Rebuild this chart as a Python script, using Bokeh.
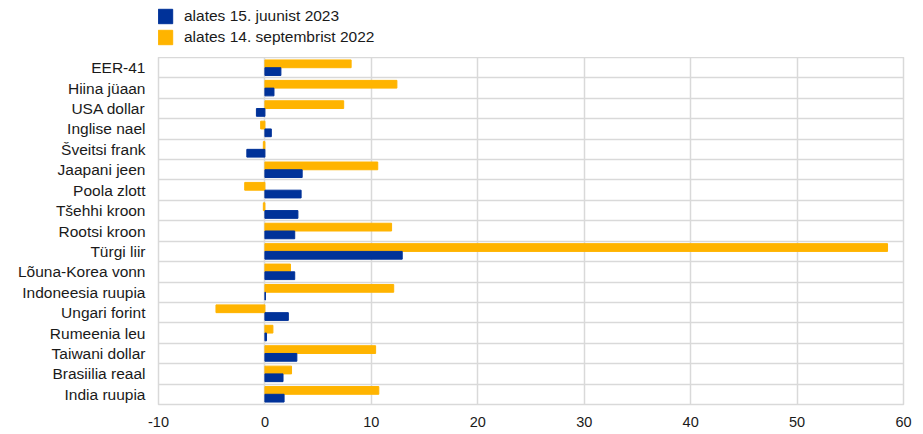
from bokeh.plotting import figure
from bokeh.layouts import column
from bokeh.models import Range1d, FixedTicker, ColumnDataSource, Legend, LegendItem
from bokeh.embed import file_html
from bokeh.resources import INLINE

categories = ["EER-41", "Hiina jüaan", "USA dollar", "Inglise nael", "Šveitsi frank",
              "Jaapani jeen", "Poola zlott", "Tšehhi kroon", "Rootsi kroon", "Türgi liir",
              "Lõuna-Korea vonn", "Indoneesia ruupia", "Ungari forint", "Rumeenia leu",
              "Taiwani dollar", "Brasiilia reaal", "India ruupia"]
since_2023 = [1.5, 0.85, -0.8, 0.6, -1.7, 3.5, 3.4, 3.1, 2.8, 12.9, 2.8, 0.05, 2.2, 0.15, 3.0, 1.7, 1.8]
since_2022 = [8.1, 12.4, 7.4, -0.4, -0.15, 10.6, -1.9, -0.15, 11.9, 58.5, 2.4, 12.1, -4.6, 0.75, 10.4, 2.5, 10.7]
x_ticks = [-10, 0, 10, 20, 30, 40, 50, 60]
x_tick_labels = ["-10", "0", "10", "20", "30", "40", "50", "60"]
series_labels = ["alates 15. juunist 2023", "alates 14. septembrist 2022"]

BLUE = "#003299"
YELLOW = "#FFB400"
FONT = "Liberation Sans"
TXT = "#1a1a1a"
GRID = "#d9d9d9"

n = len(categories)
pos = [n - 1 - i for i in range(n)]

src = ColumnDataSource(dict(
    y=pos,
    y_top=[v + 0.19 for v in pos],
    y_bot=[v - 0.19 for v in pos],
    a=since_2023,
    b=since_2022,
))

# ---- main chart ----
p = figure(width=923, height=377, output_backend="svg", toolbar_location=None,
           x_range=Range1d(x_ticks[0], x_ticks[-1]), y_range=Range1d(-0.5, n - 0.5),
           min_border_left=158, min_border_right=20, min_border_top=0, min_border_bottom=30)

p.hbar(y="y_top", left=0, right="b", height=0.38, color=YELLOW, source=src)
p.hbar(y="y_bot", left=0, right="a", height=0.38, color=BLUE, source=src)

p.xaxis.ticker = FixedTicker(ticks=x_ticks)
p.xaxis.major_label_overrides = {t: s for t, s in zip(x_ticks, x_tick_labels)}
p.yaxis.ticker = FixedTicker(ticks=pos)
p.yaxis.major_label_overrides = {v: c for v, c in zip(pos, categories)}

for ax in (p.xaxis[0], p.yaxis[0]):
    ax.axis_line_color = None
    ax.major_tick_line_color = None
    ax.minor_tick_line_color = None
    ax.major_tick_out = 0
    ax.major_tick_in = 0
    ax.major_label_text_font = FONT
    ax.major_label_text_color = TXT
p.yaxis.major_label_text_font_size = "15.5px"
p.xaxis.major_label_text_font_size = "14.5px"
p.yaxis.major_label_standoff = 13
p.xaxis.major_label_standoff = 12

p.xgrid.ticker = FixedTicker(ticks=x_ticks)
p.xgrid.grid_line_color = GRID
p.xgrid.grid_line_width = 1.5
p.ygrid.ticker = FixedTicker(ticks=[v + 0.5 for v in range(n - 1)])
p.ygrid.grid_line_color = GRID
p.ygrid.grid_line_width = 1.5
p.outline_line_color = GRID
p.outline_line_width = 1.5

# ---- legend strip above ----
pl = figure(width=923, height=57, output_backend="svg", toolbar_location=None,
            x_range=Range1d(0, 1), y_range=Range1d(0, 1),
            x_axis_type=None, y_axis_type=None,
            min_border_left=158, min_border_right=20, min_border_top=0, min_border_bottom=0)
pl.outline_line_color = None
pl.grid.visible = False
nan = float("nan")
dummy = ColumnDataSource(dict(y=[nan], left=[nan], right=[nan]))
l1 = pl.hbar(y="y", left="left", right="right", height=0.5, color=BLUE, source=dummy)
l2 = pl.hbar(y="y", left="left", right="right", height=0.5, color=YELLOW, source=dummy)

legend = Legend(items=[LegendItem(label=series_labels[0], renderers=[l1]),
                       LegendItem(label=series_labels[1], renderers=[l2])],
                location=(-2, 11), orientation="vertical",
                margin=0, padding=0, spacing=3,
                glyph_width=18, glyph_height=18, label_height=14,
                label_standoff=10, border_line_color=None,
                label_text_font=FONT, label_text_font_size="15.5px",
                label_text_color=TXT, background_fill_alpha=0)
pl.add_layout(legend, "center")

layout = column(pl, p, spacing=0)
open("out.html", "w").write(file_html(layout, INLINE))
